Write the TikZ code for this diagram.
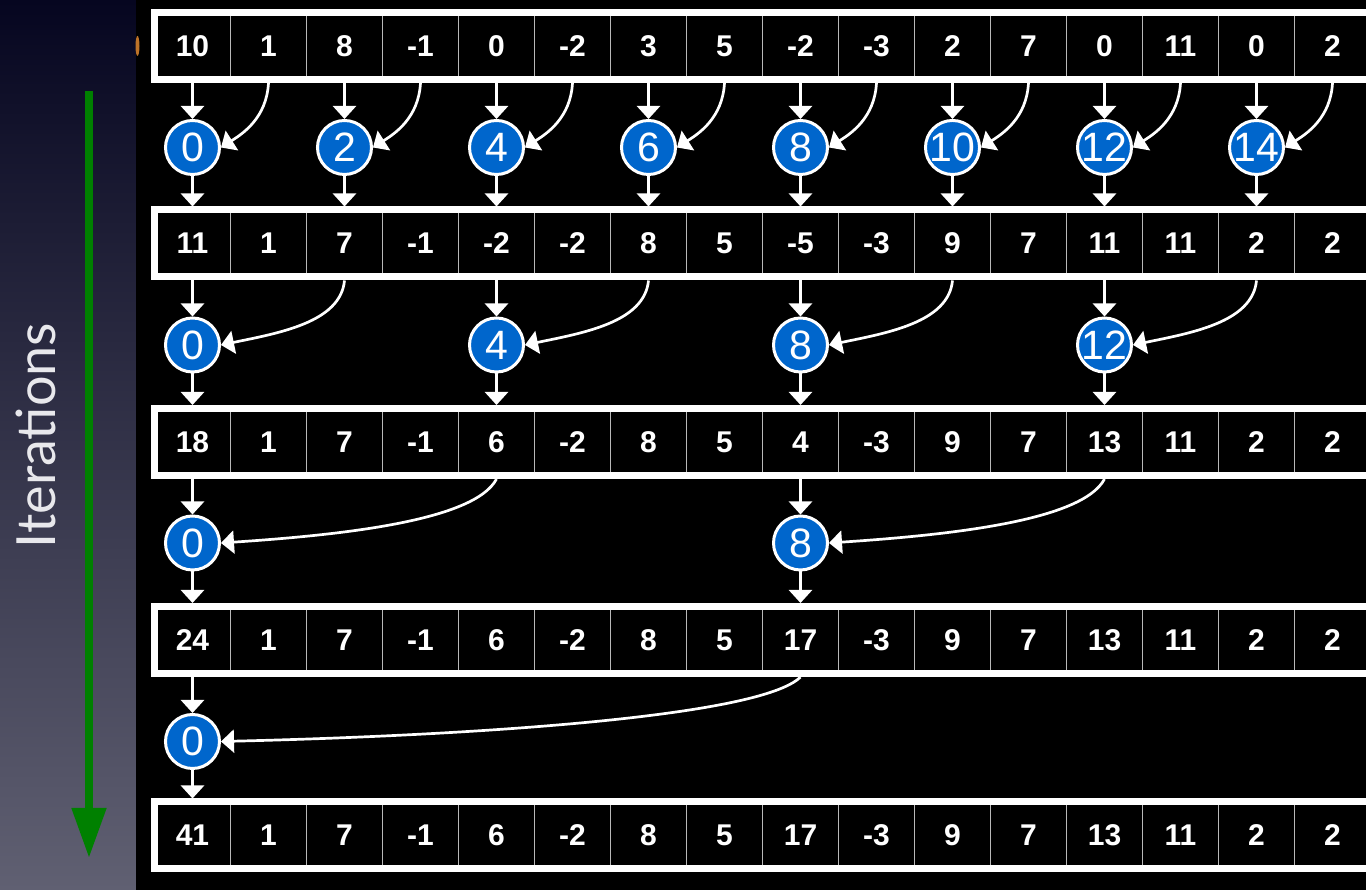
\documentclass[tikz,border=0pt]{standalone}
\usepackage{fontspec}
\setmainfont{Liberation Sans}
\newfontfamily\latofont{Lato}
\usetikzlibrary{arrows.meta}
\definecolor{nodeblue}{RGB}{0,102,204}
\definecolor{panelTop}{RGB}{6,6,32}
\definecolor{panelBot}{RGB}{96,96,114}
\definecolor{sepgray}{RGB}{185,185,185}
\definecolor{itgreen}{RGB}{0,128,0}
\definecolor{itertext}{RGB}{232,232,236}
\definecolor{artorange}{RGB}{190,115,40}
\pgfdeclareverticalshading{panelshade}{100bp}{color(0bp)=(panelBot); color(25bp)=(panelBot); color(75bp)=(panelTop); color(100bp)=(panelTop)}
\begin{document}
\begin{tikzpicture}[x=1pt,y=1pt,
  cell/.style={draw=sepgray, line width=1.5pt, minimum width=76pt, minimum height=67pt,
    inner sep=0pt, outer sep=3.5pt, text=white, font=\bfseries\fontsize{30}{30}\selectfont},
  rowframe/.style={draw=white, line width=7pt, minimum width=1216pt, minimum height=67pt, inner sep=0pt},
  sumnode/.style={circle, fill=nodeblue, draw=white, line width=3pt, minimum size=54pt,
    inner sep=0pt, text=white, font=\fontsize{41}{41}\selectfont},
  flow/.style={draw=white, line width=2.7pt, -{Triangle[length=13pt,width=23pt]}},
]
\useasboundingbox (0,0) rectangle (1366,890);
\shade[shading=panelshade] (0,0) rectangle (136,890);
\fill[black] (136,0) rectangle (1366,890);
\fill[artorange] (137.5,844) ellipse (2pt and 10pt);

% rows
\foreach \r/\yy/\vals in {
  1/844/{10,1,8,-1,0,-2,3,5,-2,-3,2,7,0,11,0,2},
  2/646.5/{11,1,7,-1,-2,-2,8,5,-5,-3,9,7,11,11,2,2},
  3/448/{18,1,7,-1,6,-2,8,5,4,-3,9,7,13,11,2,2},
  4/250/{24,1,7,-1,6,-2,8,5,17,-3,9,7,13,11,2,2},
  5/54.5/{41,1,7,-1,6,-2,8,5,17,-3,9,7,13,11,2,2}} {
  \foreach \v [count=\i from 0] in \vals {
    \node[cell] (r\r-\i) at (192.5+76*\i, \yy) {\v};
  }
  \node[rowframe] (row\r) at (762.5,\yy) {};
}

% level 1
\foreach \c in {0,2,...,14} {
  \pgfmathtruncatemacro\d{\c+1}
  \node[sumnode] (s1-\c) at (192.5+76*\c, 742.5) {\c};
  \draw[flow] (r1-\c) -- (s1-\c);
  \draw[flow] (s1-\c) -- (r2-\c);
  \draw[flow] (r1-\d.south) .. controls +(-2,-35) and +(22,14) .. (s1-\c.east);
}
% level 2
\foreach \c in {0,4,8,12} {
  \pgfmathtruncatemacro\d{\c+2}
  \node[sumnode] (s2-\c) at (192.5+76*\c, 545) {\c};
  \draw[flow] (r2-\c) -- (s2-\c);
  \draw[flow] (s2-\c) -- (r3-\c);
  \draw[flow] (r2-\d.south) .. controls +(-4,-42) and +(58,12) .. (s2-\c.east);
}
% level 3
\foreach \c in {0,8} {
  \pgfmathtruncatemacro\d{\c+4}
  \node[sumnode] (s3-\c) at (192.5+76*\c, 347) {\c};
  \draw[flow] (r3-\c) -- (s3-\c);
  \draw[flow] (s3-\c) -- (r4-\c);
  \draw[flow] (r3-\d.south) .. controls +(-22,-42) and +(120,8) .. (s3-\c.east);
}
% level 4
\node[sumnode] (s4-0) at (192.5, 148.5) {0};
\draw[flow] (r4-0) -- (s4-0);
\draw[flow] (s4-0) -- (r5-0);
\draw[flow] (r4-8.south) .. controls +(-40,-40) and +(250,6) .. (s4-0.east);

% iterations arrow
\coordinate (gtop) at (89,799);
\coordinate (gbot) at (89,32);
\draw[itgreen, line width=8pt, -{Triangle[length=50pt,width=33pt]}] (gtop) -- (gbot);
\node[rotate=90, text=itertext, font=\latofont\fontsize{54}{54}\selectfont, inner sep=0pt] (lbl) at (35.5,454.5) {Iterations};
\end{tikzpicture}
\end{document}
